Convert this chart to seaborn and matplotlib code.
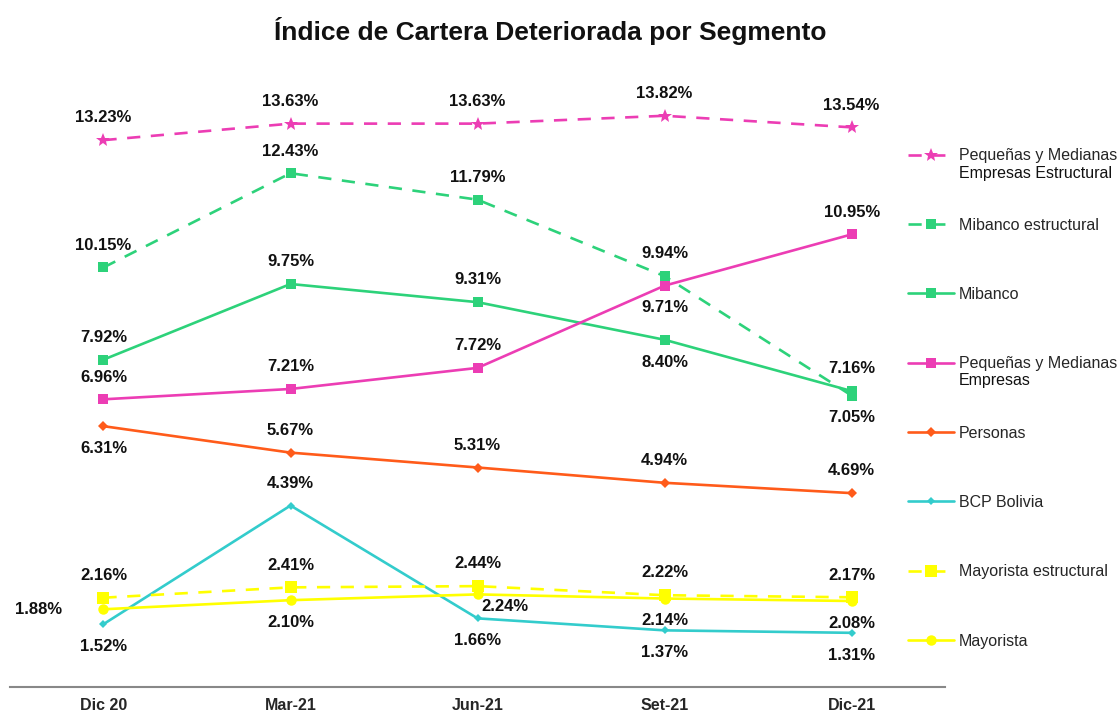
import numpy as np
import pandas as pd
import seaborn as sns
import matplotlib.pyplot as plt

# data
periodos = ['Dic 20', 'Mar-21', 'Jun-21', 'Set-21', 'Dic-21']

pyme_estructural = [13.23, 13.63, 13.63, 13.82, 13.54]
mibanco_estructural = [10.15, 12.43, 11.79, 9.94, 7.05]
mibanco = [7.92, 9.75, 9.31, 8.40, 7.16]
pyme = [6.96, 7.21, 7.72, 9.71, 10.95]
personas = [6.31, 5.67, 5.31, 4.94, 4.69]
bcp_bolivia = [1.52, 4.39, 1.66, 1.37, 1.31]
mayorista_estructural = [2.16, 2.41, 2.44, 2.22, 2.17]
mayorista = [1.88, 2.10, 2.24, 2.14, 2.08]

# where each value label sits: a = above, b = below, l = left, r = right-below
pos_pyme_estructural = ['a', 'a', 'a', 'a', 'a']
pos_mibanco_estructural = ['a', 'a', 'a', 'a', 'b']
pos_mibanco = ['a', 'a', 'a', 'b', 'a']
pos_pyme = ['a', 'a', 'a', 'b', 'a']
pos_personas = ['b', 'a', 'a', 'a', 'a']
pos_bcp_bolivia = ['b', 'a', 'b', 'b', 'b']
pos_mayorista_estructural = ['a', 'a', 'a', 'a', 'a']
pos_mayorista = ['l', 'b', 'r', 'b', 'b']

# legend text: first line goes in the legend, second line (if any) below it
series = [
    ('Pequeñas y Medianas', 'Empresas Estructural', pyme_estructural, pos_pyme_estructural, '#EC3DB4', '--', '*', 10),
    ('Mibanco estructural', '', mibanco_estructural, pos_mibanco_estructural, '#2DD27A', '--', 's', 7),
    ('Mibanco', '', mibanco, pos_mibanco, '#2DD27A', '-', 's', 6.5),
    ('Pequeñas y Medianas', 'Empresas', pyme, pos_pyme, '#EC3DB4', '-', 's', 7),
    ('Personas', '', personas, pos_personas, '#FF5B1A', '-', 'D', 5.5),
    ('BCP Bolivia', '', bcp_bolivia, pos_bcp_bolivia, '#33CCCC', '-', 'D', 4),
    ('Mayorista estructural', '', mayorista_estructural, pos_mayorista_estructural, '#FFFF00', '--', 's', 8),
    ('Mayorista', '', mayorista, pos_mayorista, '#FFFF00', '-', 'o', 7.5),
]

sns.set_style('white')
plt.rcParams['font.family'] = ['Liberation Sans', 'DejaVu Sans']

fig = plt.figure(figsize=(11.2, 7.13), dpi=100)
ax = fig.add_axes([0.0089, 0.0365, 0.835, 0.9275])

offsets = {'a': (0, 16), 'b': (0, -16), 'l': (-47, 0), 'r': (20, -9)}

handles = []
for name, name2, vals, pos, color, ls, mk, ms in series:
    df = pd.DataFrame({'periodo': periodos, 'valor': vals})
    sns.lineplot(data=df, x='periodo', y='valor', ax=ax, color=color,
                 linestyle=ls, marker=mk, markersize=ms, markeredgewidth=0,
                 linewidth=1.9, sort=False)
    line = ax.lines[-1]
    if ls == '--':
        line.set_dashes([5, 4])
    handles.append(line)
    for i, (v, p) in enumerate(zip(vals, pos)):
        dx, dy = offsets[p]
        ax.annotate(f'{v:.2f}%', (i, v), xytext=(dx, dy), textcoords='offset points',
                    ha='center', va='center', fontsize=12, fontweight='bold', color='#111111')

ax.set_xlim(-0.5, 4.5)
ax.set_ylim(0, 16)
ax.set_xlabel('')
ax.set_ylabel('')
ax.set_yticks([])
ax.tick_params(axis='x', length=0, pad=8)
for lab in ax.get_xticklabels():
    lab.set_fontweight('bold')
    lab.set_fontsize(11.5)
for s in ['top', 'right', 'left']:
    ax.spines[s].set_visible(False)
ax.spines['bottom'].set_color('#888888')
ax.spines['bottom'].set_linewidth(1.5)

leg = ax.legend(handles, [s[0] for s in series], loc='upper left', bbox_to_anchor=(0.798, 0.812),
                bbox_transform=fig.transFigure, frameon=False, fontsize=11.5,
                labelspacing=3.4, handlelength=2.9, handletextpad=0.3)

# second lines of the two-line legend labels
fig.canvas.draw()
inv = fig.transFigure.inverted()
for txt, s in zip(leg.get_texts(), series):
    if s[1]:
        bb = txt.get_window_extent()
        x0, y0 = inv.transform((bb.x0, bb.y0))
        fig.text(x0, y0 - 0.003, s[1], ha='left', va='top', fontsize=11.5, color='#111111')

fig.text(0.491, 0.957, 'Índice de Cartera Deteriorada por Segmento', ha='center', va='center',
         fontsize=19, fontweight='bold', color='#111111')

fig.savefig('out.png', dpi=100)
